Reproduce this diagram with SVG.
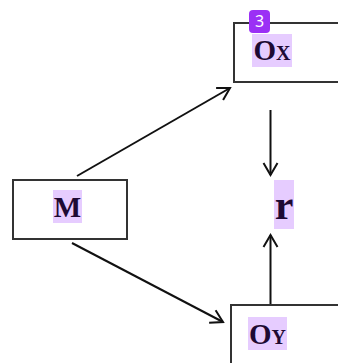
<svg xmlns="http://www.w3.org/2000/svg" width="338" height="363" viewBox="0 0 338 363">
<style>
.box{fill:#fff;stroke:#333;stroke-width:2}
.hl{fill:#e6ccff}
.lbl{font-family:"Liberation Serif",serif;font-weight:bold;fill:#1e0a33}
.sc{font-variant:small-caps}
.edge{stroke:#111;stroke-width:2;fill:none}
.badge{fill:#9b30f5}
.btxt{font-family:"Noto Sans",sans-serif;font-size:16px;fill:#fff}
</style>
<defs>
<marker id="arr" markerUnits="userSpaceOnUse" markerWidth="20" markerHeight="20" viewBox="-14 -10 16 20" refX="0" refY="0" orient="auto">
<path d="M-12,-7 L0,0 L-12,7" fill="none" stroke="#111" stroke-width="2"/>
</marker>
</defs>
<g id="edges">
<line class="edge" x1="77" y1="176" x2="230" y2="88" marker-end="url(#arr)"/>
<line class="edge" x1="72" y1="243" x2="223" y2="322" marker-end="url(#arr)"/>
<line class="edge" x1="270.5" y1="110" x2="270.5" y2="175" marker-end="url(#arr)"/>
<line class="edge" x1="270.5" y1="305" x2="270.5" y2="235" marker-end="url(#arr)"/>
</g>
<g id="M">
<rect class="box" x="13" y="180" width="114" height="59"/>
<rect class="hl" x="53" y="190" width="29" height="33"/>
<text class="lbl" x="67.5" y="217" font-size="29" text-anchor="middle">M</text>
</g>
<g id="Ox">
<rect class="box" x="234" y="23" width="140" height="59"/>
<rect class="hl" x="252" y="34" width="40" height="33"/>
<text class="lbl sc" x="272" y="60" font-size="29" text-anchor="middle">Ox</text>
<rect class="badge" x="249" y="10" width="21" height="23" rx="4"/>
<text class="btxt" x="259.5" y="27" text-anchor="middle">3</text>
</g>
<g id="r">
<rect class="hl" x="274" y="180" width="20" height="49"/>
<text class="lbl" x="284" y="219" font-size="42" text-anchor="middle">r</text>
</g>
<g id="Oy">
<rect class="box" x="231" y="305" width="140" height="70"/>
<rect class="hl" x="248" y="317" width="39" height="33"/>
<text class="lbl sc" x="267.5" y="344" font-size="29" text-anchor="middle">Oy</text>
</g>
</svg>
